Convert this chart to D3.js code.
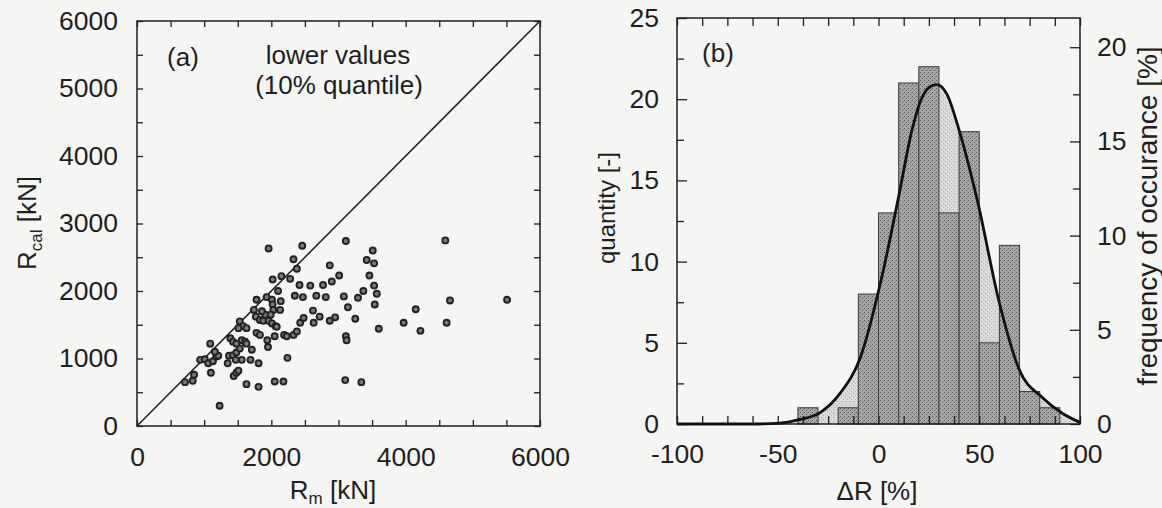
<!DOCTYPE html>
<html>
<head>
<meta charset="utf-8">
<script src="https://cdn.jsdelivr.net/npm/d3@7"></script>
<style>
  body { margin: 0; background: #f4f4f2; }
  svg { display: block; }
</style>
</head>
<body>
<div id="chart"></div>
<script>
// (a) scatter: measured vs calculated resistance, kN
const rm = [715, 830, 850, 1100, 1230, 940, 1010, 1060, 1130, 1180, 1210, 1160, 1090, 1350, 1370,
  1430, 1480, 1530, 1470, 1560, 1390, 1430, 1480, 1560, 1610, 1630, 1530, 1580, 1510, 1630,
  1710, 1690, 1810, 1440, 1480, 1510, 1630, 1810, 1780, 1740, 1770, 1830, 1880, 1910, 1860,
  1930, 2010, 2020, 2030, 1990, 2100, 2140, 2130, 1960, 2010, 2060, 2080, 1780, 1830, 1940,
  1950, 2050, 2190, 2230, 2330, 2380, 2020, 2150, 2280, 2330, 2380, 2460, 1960, 2420, 2350,
  2470, 2580, 2670, 2770, 2810, 2900, 2870, 3010, 2430, 2480, 2620, 2630, 2720, 2870, 2950,
  2240, 2050, 2180, 3080, 3110, 3140, 3110, 3120, 3250, 3290, 3370, 3420, 3460, 3510, 3530,
  3530, 3570, 3540, 3600, 3100, 3340, 3970, 4150, 4220, 4590, 4660, 4610, 5510];
const rcal = [650, 670, 760, 790, 300, 980, 990, 930, 960, 1030, 1040, 1100, 1220, 930, 1040,
  1050, 1090, 1150, 980, 980, 1300, 1250, 1220, 1270, 1250, 1220, 1550, 1480, 1450, 1450,
  1130, 980, 930, 740, 790, 820, 620, 580, 1870, 1720, 1620, 1570, 1560, 1650, 1700,
  1910, 1870, 1800, 1720, 1650, 2000, 1850, 1720, 1560, 1520, 1480, 1470, 1380, 1350, 1270,
  1170, 1330, 1350, 1330, 1350, 1400, 2170, 2220, 2180, 2470, 2330, 2670, 2630, 2090, 1930,
  1910, 2080, 1930, 2090, 1910, 2140, 2380, 2230, 1530, 1600, 1710, 1530, 1620, 1560, 1610,
  1010, 660, 660, 1920, 2740, 1760, 1330, 1270, 1590, 1900, 2000, 2460, 2230, 2600, 2410,
  2080, 1960, 1800, 1440, 680, 650, 1530, 1730, 1410, 2750, 1860, 1530, 1870];
const labelsA = [0, 2000, 4000, 6000];
const labelsAy = [0, 1000, 2000, 3000, 4000, 5000, 6000];

// (b) histogram of deviation dR [%], bins of 10
const binStart = [-40, -30, -20, -10, 0, 10, 20, 30, 40, 50, 60, 70, 80];
const binCount = [1, 0, 1, 8, 13, 21, 22, 13, 18, 5, 11, 2, 1];
const binWidth = 10;
// fitted curve
const curveDR = [-100, -60, -49, -40, -29, -19, -9, 1, 10, 17, 22, 26, 29, 34, 40, 49, 60, 70, 81, 91, 100];
const curveQ = [0, 0, 0.05, 0.25, 0.7, 1.9, 4.1, 8.7, 14.0, 18.3, 20.2, 20.8, 20.9, 20.3, 18.1, 13.8, 7.45, 3.3, 1.66, 0.68, 0.1];
const labelsBx = [-100, -50, 0, 50, 100];
const labelsBy = [0, 5, 10, 15, 20, 25];
const labelsBf = [0, 5, 10, 15, 20];

(function() {
  const FONT = "'Liberation Sans', Arial, Helvetica, sans-serif";
  const INK = "#1e1e1e";
  const TICKFONT = 26.5;
  const W = 1162, H = 508;

  const A = { left: 137, right: 540, top: 21, bottom: 426 };
  const B = { left: 677, right: 1080, top: 18, bottom: 424 };

  const svg = d3.select("#chart").append("svg")
    .attr("width", W).attr("height", H)
    .style("font-family", FONT);

  svg.append("rect").attr("width", W).attr("height", H).attr("fill", "#f5f5f3");

  // stipple patterns for the histogram
  const defs = svg.append("defs");
  const dark = defs.append("pattern").attr("id", "dark")
    .attr("width", 4).attr("height", 4).attr("patternUnits", "userSpaceOnUse");
  dark.append("rect").attr("width", 4).attr("height", 4).attr("fill", "#a6a6a6");
  dark.append("rect").attr("x", 0).attr("y", 0).attr("width", 1).attr("height", 1).attr("fill", "#5a5a5a");
  dark.append("rect").attr("x", 2).attr("y", 2).attr("width", 1).attr("height", 1).attr("fill", "#666");
  dark.append("rect").attr("x", 3).attr("y", 1).attr("width", 1).attr("height", 1).attr("fill", "#888");
  const light = defs.append("pattern").attr("id", "light")
    .attr("width", 4).attr("height", 4).attr("patternUnits", "userSpaceOnUse");
  light.append("rect").attr("width", 4).attr("height", 4).attr("fill", "#dadad9");
  light.append("rect").attr("x", 1).attr("y", 1).attr("width", 1).attr("height", 1).attr("fill", "#a8a8a8");
  light.append("rect").attr("x", 3).attr("y", 3).attr("width", 1).attr("height", 1).attr("fill", "#b8b8b8");

  function styleAxis(g) {
    g.select(".domain").remove();
    g.attr("font-size", TICKFONT).attr("font-family", FONT).attr("color", INK);
    g.selectAll(".tick line").attr("stroke-width", 1.3);
  }

  function frame(p) {
    svg.append("rect")
      .attr("x", p.left).attr("y", p.top)
      .attr("width", p.right - p.left).attr("height", p.bottom - p.top)
      .attr("fill", "none").attr("stroke", INK).attr("stroke-width", 1.5);
  }

  function rotLabel(x, y, parts, size) {
    const t = svg.append("text")
      .attr("transform", `translate(${x},${y}) rotate(-90)`)
      .attr("text-anchor", "middle").attr("dy", "0.35em")
      .attr("font-size", size).attr("fill", INK);
    parts(t);
  }

  // ---------- panel (a) ----------
  function drawScatter() {
    const x = d3.scaleLinear().domain([0, 6000]).range([A.left, A.right]);
    const y = d3.scaleLinear().domain([0, 6000]).range([A.bottom, A.top]);
    const minor = d3.range(0, 6001, 500);

    svg.append("g").attr("transform", `translate(0,${A.bottom})`)
      .call(d3.axisBottom(x).tickValues(minor)
        .tickFormat(d => labelsA.includes(d) ? d : "")
        .tickSizeInner(-6).tickSizeOuter(0).tickPadding(21))
      .call(styleAxis);
    svg.append("g").attr("transform", `translate(0,${A.top})`)
      .call(d3.axisTop(x).tickValues(minor).tickFormat("")
        .tickSizeInner(-6).tickSizeOuter(0))
      .call(styleAxis);
    svg.append("g").attr("transform", `translate(${A.left},0)`)
      .call(d3.axisLeft(y).tickValues(minor)
        .tickFormat(d => labelsAy.includes(d) ? d : "")
        .tickSizeInner(-6).tickSizeOuter(0).tickPadding(19))
      .call(styleAxis);
    svg.append("g").attr("transform", `translate(${A.right},0)`)
      .call(d3.axisRight(y).tickValues(minor).tickFormat("")
        .tickSizeInner(-6).tickSizeOuter(0))
      .call(styleAxis);

    frame(A);

    // 1:1 line
    svg.append("line")
      .attr("x1", x(0)).attr("y1", y(0)).attr("x2", x(6000)).attr("y2", y(6000))
      .attr("stroke", INK).attr("stroke-width", 1.5);

    svg.append("g").selectAll("circle")
      .data(rm.map((d, i) => [d, rcal[i]]))
      .enter().append("circle")
      .attr("cx", d => x(d[0])).attr("cy", d => y(d[1]))
      .attr("r", 3)
      .attr("fill", "#7a7a7a").attr("stroke", "#222").attr("stroke-width", 1.9);

    svg.append("text").attr("x", 183).attr("y", 57).attr("dy", "0.35em")
      .attr("text-anchor", "middle").attr("font-size", 26).attr("fill", INK).text("(a)");
    svg.append("text").attr("x", 338).attr("y", 55).attr("dy", "0.35em")
      .attr("text-anchor", "middle").attr("font-size", 26).attr("fill", INK).text("lower values");
    svg.append("text").attr("x", 339).attr("y", 85).attr("dy", "0.35em")
      .attr("text-anchor", "middle").attr("font-size", 26).attr("fill", INK).text("(10% quantile)");

    rotLabel(27, 223, t => {
      t.append("tspan").text("R");
      t.append("tspan").attr("font-size", 17).attr("dy", 6).text("cal");
      t.append("tspan").attr("dy", -6).text(" [kN]");
    }, 26);

    const xl = svg.append("text").attr("x", 333).attr("y", 499)
      .attr("text-anchor", "middle").attr("font-size", 26).attr("fill", INK);
    xl.append("tspan").text("R");
    xl.append("tspan").attr("font-size", 17).attr("dy", 5).text("m");
    xl.append("tspan").attr("dy", -5).text(" [kN]");
  }

  // ---------- panel (b) ----------
  function drawHistogram() {
    const x = d3.scaleLinear().domain([-100, 100]).range([B.left, B.right]);
    const y = d3.scaleLinear().domain([0, 25]).range([B.bottom, B.top]);
    const total = d3.sum(binCount);
    const f = d3.scaleLinear().domain([0, 25 / total * 100]).range([B.bottom, B.top]);

    const pts = curveDR.map((d, i) => [d, curveQ[i]]);
    const area = d3.area().x(d => x(d[0])).y0(y(0)).y1(d => y(d[1])).curve(d3.curveMonotoneX);
    const line = d3.line().x(d => x(d[0])).y(d => y(d[1])).curve(d3.curveMonotoneX);

    svg.append("path").datum(pts).attr("d", area).attr("fill", "url(#light)");

    svg.append("g").selectAll("rect")
      .data(binStart.map((d, i) => ({ start: d, n: binCount[i] })).filter(d => d.n > 0))
      .enter().append("rect")
      .attr("x", d => x(d.start)).attr("width", d => x(d.start + binWidth) - x(d.start))
      .attr("y", d => y(d.n)).attr("height", d => y(0) - y(d.n))
      .attr("fill", "url(#dark)").attr("stroke", "#3a3a3a").attr("stroke-width", 1);

    const minorX = d3.range(-100, 100.1, 12.5);
    svg.append("g").attr("transform", `translate(0,${B.bottom})`)
      .call(d3.axisBottom(x).tickValues(minorX)
        .tickFormat(d => labelsBx.includes(d) ? d : "")
        .tickSizeInner(-8).tickSizeOuter(0).tickPadding(20))
      .call(styleAxis);
    svg.append("g").attr("transform", `translate(0,${B.top})`)
      .call(d3.axisTop(x).tickValues(minorX).tickFormat("")
        .tickSizeInner(-8).tickSizeOuter(0))
      .call(styleAxis);
    svg.append("g").attr("transform", `translate(${B.left},0)`)
      .call(d3.axisLeft(y).tickValues(d3.range(0, 25.1, 2.5))
        .tickFormat(d => labelsBy.includes(d) ? d : "")
        .tickSizeInner(-7).tickSizeOuter(0).tickPadding(18))
      .call(styleAxis)
      .call(g => g.selectAll(".tick line").attr("x2", d => d % 5 === 0 ? 10 : 7));
    svg.append("g").attr("transform", `translate(${B.right},0)`)
      .call(d3.axisRight(f).tickValues(d3.range(0, 20.1, 2.5))
        .tickFormat(d => labelsBf.includes(d) ? d : "")
        .tickSizeInner(-7).tickSizeOuter(0).tickPadding(17))
      .call(styleAxis)
      .call(g => g.selectAll(".tick line").attr("x2", d => d % 5 === 0 ? -10 : -7));

    frame(B);

    svg.append("path").datum(pts).attr("d", line)
      .attr("fill", "none").attr("stroke", "#111").attr("stroke-width", 2.8);

    svg.append("text").attr("x", 718).attr("y", 53).attr("dy", "0.35em")
      .attr("text-anchor", "middle").attr("font-size", 26).attr("fill", INK).text("(b)");

    rotLabel(607, 208, t => t.text("quantity [-]"), 24);
    rotLabel(1147, 216, t => t.text("frequency of occurance [%]"), 28);

    svg.append("text").attr("x", 877).attr("y", 500)
      .attr("text-anchor", "middle").attr("font-size", 26).attr("fill", INK)
      .text("\u0394R [%]");
  }

  drawScatter();
  drawHistogram();
})();
</script>
</body>
</html>
